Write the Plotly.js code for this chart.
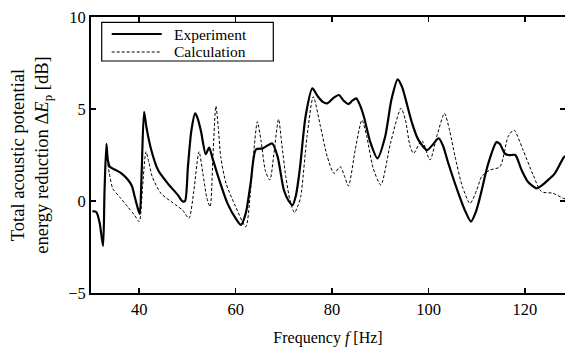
<!DOCTYPE html>
<html><head><meta charset="utf-8">
<script src="https://cdn.plot.ly/plotly-3.0.1.min.js"></script>
<style>html,body{margin:0;padding:0;background:#fff}#chart{width:565px;height:347px}</style>
</head><body><div id="chart"></div>
<script>
var expFreq = [30.3,31.1,31.8,32.5,32.8,33.2,33.5,33.9,35.0,36.3,37.7,38.5,39.0,39.6,40.1,40.5,41.0,41.5,42.5,43.9,45.9,48.0,49.0,49.5,50.1,50.8,51.6,52.1,52.8,53.8,54.5,55.2,56.6,58.3,60.0,61.1,62.1,63.1,64.2,65.6,66.5,67.6,68.7,70.0,71.0,71.8,72.5,73.1,73.5,74.5,75.9,77.0,78.0,79.0,80.3,81.4,82.4,83.4,84.2,85.0,85.8,86.6,87.9,89.4,91.0,92.3,93.6,94.5,95.2,96.6,97.9,99.7,101.0,102.1,103.0,104.1,106.2,107.7,108.8,109.8,110.7,112.4,114.1,114.8,115.8,116.5,117.2,118.0,119.3,120.6,122.4,123.5,124.4,126.2,127.9,128.3];
var expVal = [-0.55,-0.6,-1.2,-2.45,0.5,3.1,2.2,1.86,1.7,1.5,1.14,0.8,0.3,-0.3,-0.7,1.5,4.85,4.0,2.77,1.68,0.96,0.33,-0.02,0.0,1.86,3.8,4.76,4.5,3.8,2.55,2.9,2.32,1.14,-0.13,-0.94,-1.3,-0.66,0.96,2.8,2.86,3.0,3.13,2.41,0.6,0.0,-0.22,0.3,1.32,2.2,4.6,6.12,5.7,5.4,5.31,5.6,5.76,5.45,5.27,5.45,5.58,5.2,4.58,3.22,2.32,3.49,5.5,6.61,6.2,5.58,4.22,3.32,2.77,3.1,3.41,3.0,2.05,0.42,-0.6,-1.12,-0.6,0.23,2.05,3.2,3.1,2.59,2.5,2.5,2.5,1.68,1.05,0.69,0.85,1.05,1.5,2.32,2.45];
var calcFreq = [33.5,33.8,34.5,35.9,37.6,39.0,40.0,40.7,41.4,42.0,42.7,44.5,47.6,49.0,50.3,51.3,52.4,53.2,54.0,54.7,55.3,55.9,56.4,56.9,58.0,60.0,62.1,63.1,63.8,64.5,65.3,66.2,67.1,67.9,68.9,69.6,70.4,71.3,72.2,73.0,73.5,74.8,76.1,77.6,79.0,80.4,81.7,82.5,83.4,84.8,86.2,87.2,88.5,90.1,92.1,94.3,95.2,96.2,96.9,98.6,100.3,101.8,103.3,104.4,105.5,107.0,108.6,110.0,111.0,112.7,114.8,116.5,117.7,119.6,121.7,123.4,125.8,127.9,128.3];
var calcVal = [2.0,1.5,0.69,0.23,-0.31,-0.76,-1.12,0.8,2.68,2.1,1.32,0.42,-0.22,-0.5,-0.94,0.5,2.68,1.5,0.2,-0.31,2.5,5.16,4.0,2.41,0.96,-0.31,-1.4,0.6,2.8,4.31,3.2,1.6,1.14,2.5,4.44,3.0,1.32,0.0,-0.63,-0.2,0.23,3.5,5.67,4.04,2.41,1.5,1.86,1.4,0.82,2.8,4.4,3.49,1.8,0.87,3.13,5.04,4.4,2.95,2.59,3.28,2.23,3.6,4.76,3.8,2.41,0.8,-0.13,0.6,1.32,1.68,1.86,3.49,3.86,2.77,1.41,0.51,0.42,0.15,0.12];
var seriesNames = ['Experiment', 'Calculation'];
var xTicks = [40, 60, 80, 100, 120];
var yTicks = [-5, 0, 5, 10];

var serif = 'Liberation Serif, Times New Roman, serif';
var traces = [
  {x: expFreq, y: expVal, name: seriesNames[0], type: 'scatter', mode: 'lines', showlegend: false,
   line: {color: '#000', width: 2.2, shape: 'spline', smoothing: 0.7}},
  {x: calcFreq, y: calcVal, name: seriesNames[1], type: 'scatter', mode: 'lines', showlegend: false,
   line: {color: '#000', width: 1, dash: '3px,2px', shape: 'spline', smoothing: 0.7}}
];
var axisCommon = {showgrid: false, zeroline: false, showline: true, linecolor: '#000', linewidth: 2,
  mirror: 'ticks', ticks: 'inside', ticklen: 5, tickwidth: 1.5, tickcolor: '#000',
  tickfont: {family: serif, size: 16.5, color: '#000'}};

// legend box drawn in paper coordinates (top-left of plot)
var legendShapes = [
  {type: 'rect', xref: 'paper', yref: 'paper', x0: 0.0226, x1: 0.3846, y0: 0.8406, y1: 0.9808,
   line: {color: '#000', width: 1.2}, fillcolor: '#fff', layer: 'above'},
  {type: 'line', xref: 'paper', yref: 'paper', x0: 0.0437, x1: 0.1492, y0: 0.9384, y1: 0.9384,
   line: {color: '#000', width: 2.2}, layer: 'above'},
  {type: 'line', xref: 'paper', yref: 'paper', x0: 0.0437, x1: 0.1492, y0: 0.8732, y1: 0.8732,
   line: {color: '#000', width: 1, dash: '3px,2px'}, layer: 'above'}
];
var legendText = [
  {text: seriesNames[0], xref: 'paper', yref: 'paper', x: 0.1736, y: 0.9384, xanchor: 'left', yanchor: 'middle',
   showarrow: false, borderpad: 0, font: {family: serif, size: 15.5, color: '#000'}},
  {text: seriesNames[1], xref: 'paper', yref: 'paper', x: 0.1736, y: 0.8732, xanchor: 'left', yanchor: 'middle',
   showarrow: false, borderpad: 0, font: {family: serif, size: 15.5, color: '#000'}}
];

var layout = {
  width: 565, height: 347,
  margin: {l: 91, r: 0, t: 17, b: 54},
  paper_bgcolor: '#fff', plot_bgcolor: '#fff',
  showlegend: false,
  shapes: legendShapes,
  annotations: legendText,
  xaxis: Object.assign({}, axisCommon, {range: [30, 128.3], tickvals: xTicks,
    title: {text: 'Frequency <i>f</i> [Hz]', font: {family: serif, size: 16, color: '#000'}, standoff: 16}}),
  yaxis: Object.assign({}, axisCommon, {range: [-5, 10], tickvals: yTicks,
    ticktext: yTicks.map(function(v){return v < 0 ? '\u2212' + Math.abs(v) : String(v);}),
    title: {text: 'Total acoustic potential<br>energy reduction \u0394<i>E</i><sub>p</sub> [dB]',
      font: {family: serif, size: 18.5, color: '#000'}, standoff: 15}})
};
Plotly.newPlot('chart', traces, layout, {staticPlot: true, displayModeBar: false});
</script></body></html>
